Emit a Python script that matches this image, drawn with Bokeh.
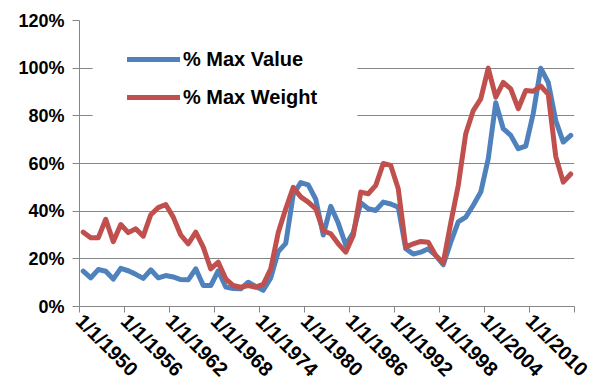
import math
from bokeh.plotting import figure
from bokeh.models import FixedTicker, Legend, LegendItem, BoxAnnotation, Range1d
from bokeh.embed import file_html
from bokeh.resources import INLINE

years = list(range(1950, 2016))

max_value = [
    14.8, 12.0, 15.5, 14.8, 11.5, 16.0, 15.0, 13.5, 11.8, 15.4,
    12.0, 13.0, 12.4, 11.3, 11.2, 15.8, 8.8, 8.8, 15.0, 8.2,
    7.5, 7.4, 10.2, 8.4, 6.8, 12.0, 23.0, 26.5, 47.0, 52.0,
    51.0, 45.0, 30.0, 42.0, 35.0, 25.8, 31.0, 43.5, 41.0, 40.3,
    43.8, 43.0, 41.7, 24.2, 22.0, 22.8, 24.2, 21.4, 17.5, 27.0,
    35.5, 37.5, 42.5, 48.0, 62.0, 85.5, 74.6, 71.8, 66.2, 67.3,
    81.0, 100.0, 94.0, 78.0, 69.0, 71.8,
]

max_weight = [
    31.2, 28.8, 28.8, 36.6, 27.2, 34.4, 31.0, 32.6, 29.5, 38.5,
    41.5, 42.8, 37.5, 30.0, 26.3, 31.2, 24.9, 15.8, 18.6, 11.6,
    8.8, 8.1, 8.8, 8.1, 9.3, 15.8, 31.0, 41.0, 50.0, 46.0,
    43.8, 41.0, 31.8, 30.5, 26.3, 22.8, 29.8, 48.0, 47.3, 50.8,
    60.0, 59.2, 49.4, 24.9, 26.3, 27.3, 27.0, 21.4, 18.3, 35.0,
    50.8, 72.5, 82.2, 87.1, 100.0, 87.8, 94.0, 91.3, 83.0, 90.6,
    90.3, 92.5, 89.0, 63.0, 52.2, 55.6,
]

y_ticks = [0, 20, 40, 60, 80, 100, 120]
y_tick_labels = ["0%", "20%", "40%", "60%", "80%", "100%", "120%"]

x_label_years = [1950, 1956, 1962, 1968, 1974, 1980, 1986, 1992, 1998, 2004, 2010]
x_tick_labels = ["1/1/%d" % y for y in x_label_years]

series_names = ["% Max Value", "% Max Weight"]
colors = ["#4F81BD", "#C0504D"]

FONT = "Liberation Sans"

p = figure(width=597, height=392, output_backend="svg", toolbar_location=None,
           min_border_left=79, min_border_right=23, min_border_top=20, min_border_bottom=86,
           x_range=Range1d(1949.5, 2015.5), y_range=Range1d(0, 120))
p.outline_line_color = None
p.background_fill_color = "white"
p.border_fill_color = "white"

r1 = p.line(years, max_value, line_color=colors[0], line_width=5, line_join="round", line_cap="round")
r2 = p.line(years, max_weight, line_color=colors[1], line_width=5, line_join="round", line_cap="round")

# white legend backdrop hiding gridlines
p.add_layout(BoxAnnotation(left=1951.25, right=1986.55, top=113.5, bottom=75,
                           fill_color="white", fill_alpha=1.0, line_color=None, level="underlay"))

# y axis
p.yaxis.ticker = FixedTicker(ticks=y_ticks)
p.yaxis.major_label_overrides = {t: l for t, l in zip(y_ticks, y_tick_labels)}
p.yaxis.major_label_text_font = FONT
p.yaxis.major_label_text_font_style = "bold"
p.yaxis.major_label_text_font_size = "18px"
p.yaxis.major_label_text_color = "black"
p.yaxis.axis_line_color = "#868686"
p.yaxis.major_tick_line_color = "#868686"
p.yaxis.major_tick_in = 0
p.yaxis.major_tick_out = 7
p.yaxis.minor_tick_line_color = None
p.yaxis.major_label_standoff = 8

# x axis
xt = [1949.5 + 6 * k for k in range(12)]
overrides = {}
for k, t in enumerate(xt):
    overrides[t] = x_tick_labels[k] if k < len(x_tick_labels) else ""
p.xaxis.ticker = FixedTicker(ticks=xt)
p.xaxis.major_label_overrides = overrides
p.xaxis.major_label_orientation = -math.pi / 4
p.xaxis.major_label_text_font = FONT
p.xaxis.major_label_text_font_style = "bold"
p.xaxis.major_label_text_font_size = "20px"
p.xaxis.major_label_text_color = "black"
p.xaxis.axis_line_color = "#868686"
p.xaxis.major_tick_line_color = "#868686"
p.xaxis.major_tick_in = 0
p.xaxis.major_tick_out = 6
p.xaxis.minor_tick_line_color = None
p.xaxis.major_label_standoff = 5

p.xgrid.grid_line_color = None
p.ygrid.ticker = FixedTicker(ticks=y_ticks)
p.ygrid.grid_line_color = "#868686"
p.ygrid.grid_line_width = 1

legend = Legend(items=[LegendItem(label=series_names[0], renderers=[r1]),
                       LegendItem(label=series_names[1], renderers=[r2])],
                location=(48, 190))
legend.background_fill_alpha = 0
legend.border_line_color = None
legend.padding = 0
legend.margin = 0
legend.spacing = 0
legend.glyph_width = 53
legend.glyph_height = 38
legend.label_height = 38
legend.label_standoff = 3
legend.label_text_font = FONT
legend.label_text_font_style = "bold"
legend.label_text_font_size = "20px"
legend.label_text_color = "black"
legend.label_text_baseline = "middle"
p.add_layout(legend, "center")

open("out.html", "w").write(file_html(p, INLINE))
